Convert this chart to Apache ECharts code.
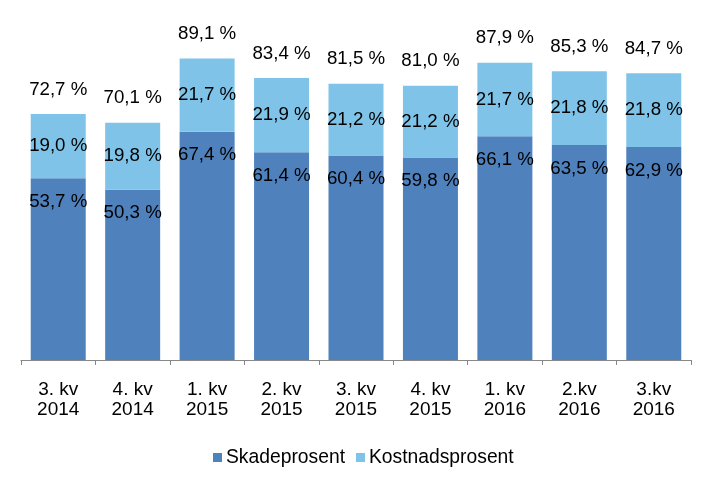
<!DOCTYPE html>
<html>
<head>
<meta charset="utf-8">
<script src="https://cdn.jsdelivr.net/npm/echarts@6/dist/echarts.min.js"></script>
<style>html,body{margin:0;padding:0;background:#fff}#c{width:710px;height:492px}</style>
</head>
<body>
<div id="c"></div>
<script>
var categories = ['3. kv\n2014','4. kv\n2014','1. kv\n2015','2. kv\n2015','3. kv\n2015','4. kv\n2015','1. kv\n2016','2.kv\n2016','3.kv\n2016'];
var skadeprosent = [53.7, 50.3, 67.4, 61.4, 60.4, 59.8, 66.1, 63.5, 62.9];
var kostnadsprosent = [19.0, 19.8, 21.7, 21.9, 21.2, 21.2, 21.7, 21.8, 21.8];
var totals = [72.7, 70.1, 89.1, 83.4, 81.5, 81.0, 87.9, 85.3, 84.7];
var topZero = [0,0,0,0,0,0,0,0,0];

function fmt(v){ return v.toFixed(1).replace('.', ',') + ' %'; }
var FONT = 'Liberation Sans, Arial, sans-serif';
var FS = 18.7;

var chart = echarts.init(document.getElementById('c'), null, {renderer:'canvas'});
chart.setOption({
  animation: false,
  grid: {left: 21, right: 19, top: 21.5, bottom: 132, containLabel: false},
  legend: {
    data: ['Skadeprosent', 'Kostnadsprosent'],
    top: 443,
    left: 208,
    icon: 'rect',
    itemWidth: 9, itemHeight: 9, itemGap: 11,
    textStyle: {fontFamily: FONT, fontSize: 19.3, color: '#000', padding: [0,0,0,-1]}
  },
  xAxis: {
    type: 'category',
    data: categories,
    axisLine: {lineStyle: {color: '#888888', width: 1}},
    axisTick: {show: true, length: 5, lineStyle: {color: '#888888'}},
    axisLabel: {fontFamily: FONT, fontSize: 19, color: '#000', lineHeight: 20, margin: 20, interval: 0}
  },
  yAxis: {
    type: 'value', min: 0, max: 100, show: false,
    splitLine: {show: false}
  },
  series: [
    {
      name: 'Skadeprosent', type: 'bar', stack: 'a', barWidth: 55,
      data: skadeprosent,
      itemStyle: {color: '#4F81BD'},
      label: {show: true, position: 'insideTop', distance: 14,
        fontFamily: FONT, fontSize: FS, color: '#000',
        formatter: function(p){ return fmt(p.value); }}
    },
    {
      name: 'Kostnadsprosent', type: 'bar', stack: 'a', barWidth: 55,
      data: kostnadsprosent,
      itemStyle: {color: '#7FC4E8'},
      label: {show: true, position: 'inside',
        fontFamily: FONT, fontSize: FS, color: '#000',
        formatter: function(p){ return fmt(p.value); }}
    },
    {
      name: 'Total', type: 'bar', stack: 'a', barWidth: 55,
      data: topZero,
      itemStyle: {color: 'rgba(0,0,0,0)'},
      label: {show: true, position: 'top', distance: 15,
        fontFamily: FONT, fontSize: FS, color: '#000',
        formatter: function(p){ return fmt(totals[p.dataIndex]); }}
    }
  ]
});
</script>
</body>
</html>
